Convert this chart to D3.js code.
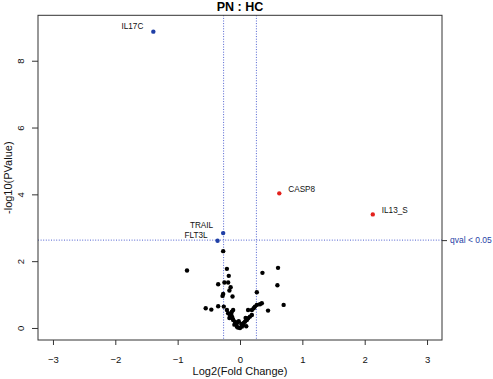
<!DOCTYPE html>
<html>
<head>
<meta charset="utf-8">
<script src="https://cdn.jsdelivr.net/npm/d3@7"></script>
<style>
  body { margin: 0; background: #fff; }
  svg { display: block; font-family: "Liberation Sans", Arial, sans-serif; }
</style>
</head>
<body>
<div id="chart"></div>
<script>
// significant proteins (labelled)
const sigNames = ["IL17C", "TRAIL", "FLT3L", "CASP8", "IL13_S"];
const sigFC = [-1.39, -0.27, -0.36, 0.63, 2.13];
const sigP = [8.87, 2.84, 2.61, 4.03, 3.40];
const sigDir = ["down", "down", "down", "up", "up"];

// everything else (not significant)
const nsFC = [-0.27, -0.85, -0.21, 0.36, 0.61, -0.18, -0.35, -0.25, -0.19, -0.15, -0.17, 0.60,
  -0.27, -0.28, -0.12, 0.27, 0.70, -0.55, -0.46, -0.35, -0.26, 0.35, 0.45,
  -0.21, -0.19, -0.16, -0.13, -0.12, -0.11, -0.13, -0.11, -0.08, -0.05, -0.05, -0.03, 0.00,
  0.03, 0.05, 0.08, 0.11, 0.13, 0.16, 0.19, 0.13, 0.19, 0.22, 0.24, 0.27, 0.32,
  -0.17, -0.09, 0.06, 0.10, -0.14, 0.02, -0.02, 0.09];
const nsP = [2.30, 1.72, 1.77, 1.65, 1.80, 1.56, 1.31, 1.36, 1.36, 1.22, 1.12, 1.28,
  1.02, 0.96, 0.94, 1.07, 0.69, 0.59, 0.55, 0.65, 0.64, 0.74, 0.52,
  0.54, 0.44, 0.39, 0.34, 0.29, 0.24, 0.49, 0.54, 0.19, 0.14, 0.04, 0.01, 0.00,
  0.04, 0.09, 0.19, 0.24, 0.29, 0.34, 0.39, 0.54, 0.54, 0.59, 0.64, 0.69, 0.71,
  0.30, 0.10, 0.15, 0.05, 0.42, 0.12, 0.20, 0.30];

const xTicks = [-3, -2, -1, 0, 1, 2, 3];
const yTicks = [0, 2, 4, 6, 8];
const fcCut = 0.263;   // log2(1.2)
const qCut = 2.63;     // -log10 p where q < 0.05

const width = 493;
const height = 379;
const blue = "#1f3fa6";
const red = "#e3211c";
const lineBlue = "#4f60d0";

const svg = d3.select("#chart")
  .append("svg")
  .attr("width", width)
  .attr("height", height);

const x = d3.scaleLinear().domain([-3.24, 3.24]).range([38, 442]);
const y = d3.scaleLinear().domain([-0.36, 9.36]).range([340, 15.3]);

// threshold lines
svg.selectAll(".vline")
  .data([-fcCut, fcCut])
  .join("line")
  .attr("x1", d => x(d)).attr("x2", d => x(d))
  .attr("y1", y.range()[1]).attr("y2", y.range()[0])
  .attr("stroke", lineBlue)
  .attr("stroke-dasharray", "1,1.6");

svg.append("line")
  .attr("x1", x.range()[0]).attr("x2", x.range()[1])
  .attr("y1", y(qCut)).attr("y2", y(qCut))
  .attr("stroke", lineBlue)
  .attr("stroke-dasharray", "1,1.6");

// points
const ns = nsFC.map((d, i) => ({ fc: d, p: nsP[i] }));
svg.selectAll(".ns")
  .data(ns)
  .join("circle")
  .attr("cx", d => x(d.fc))
  .attr("cy", d => y(d.p))
  .attr("r", 2.2)
  .attr("fill", "#000");

const sig = sigNames.map((n, i) => ({ name: n, fc: sigFC[i], p: sigP[i], dir: sigDir[i] }));
svg.selectAll(".sig")
  .data(sig)
  .join("circle")
  .attr("cx", d => x(d.fc))
  .attr("cy", d => y(d.p))
  .attr("r", 2.2)
  .attr("fill", d => d.dir === "up" ? red : blue);

// small nudge so the two close labels don't collide
const nudge = { TRAIL: -1.5, FLT3L: 0.5 };
svg.selectAll(".lab")
  .data(sig)
  .join("text")
  .attr("x", d => d.dir === "up" ? x(d.fc) + 9 : x(d.fc) - 10)
  .attr("y", d => (d.dir === "up" ? y(d.p) - 4 : y(d.p) - 6) + (nudge[d.name] || 0))
  .attr("dy", "0.35em")
  .attr("text-anchor", d => d.dir === "up" ? "start" : "end")
  .attr("font-size", 8.2)
  .attr("fill", "#111")
  .text(d => d.name);

// axes
const xAxis = svg.append("g")
  .attr("transform", `translate(0,340)`)
  .call(d3.axisBottom(x).tickValues(xTicks).tickSize(5).tickPadding(11).tickFormat(d3.format("d")));
xAxis.select(".domain").remove();
xAxis.selectAll("text").attr("font-size", 9.5).attr("fill", "#111");
xAxis.selectAll("line").attr("stroke", "#333");

const yAxis = svg.append("g")
  .attr("transform", `translate(38,0)`)
  .call(d3.axisLeft(y).tickValues(yTicks).tickSize(6).tickFormat(d3.format("d")));
yAxis.select(".domain").remove();
yAxis.selectAll("line").attr("stroke", "#333");
yAxis.selectAll("text")
  .attr("x", null)
  .attr("dy", null)
  .attr("text-anchor", "middle")
  .attr("transform", "translate(-14,0) rotate(-90)")
  .attr("font-size", 9.5)
  .attr("fill", "#111");

const rAxis = svg.append("g")
  .attr("transform", `translate(442,0)`)
  .call(d3.axisRight(y).tickValues([qCut]).tickSize(5).tickPadding(3).tickFormat(() => "qval < 0.05"));
rAxis.select(".domain").remove();
rAxis.selectAll("line").attr("stroke", "#333");
rAxis.selectAll("text").attr("font-size", 8.5).attr("fill", blue);

// box
svg.append("rect")
  .attr("x", x.range()[0]).attr("y", y.range()[1])
  .attr("width", x.range()[1] - x.range()[0])
  .attr("height", y.range()[0] - y.range()[1])
  .attr("fill", "none")
  .attr("stroke", "#333");

// titles
svg.append("text")
  .attr("x", 240).attr("y", 11)
  .attr("text-anchor", "middle")
  .attr("font-size", 12.5)
  .attr("font-weight", "bold")
  .text("PN : HC");

svg.append("text")
  .attr("x", 240).attr("y", 375)
  .attr("text-anchor", "middle")
  .attr("font-size", 11)
  .attr("fill", "#111")
  .text("Log2(Fold Change)");

svg.append("text")
  .attr("transform", "translate(12,177.7) rotate(-90)")
  .attr("text-anchor", "middle")
  .attr("font-size", 11)
  .attr("fill", "#111")
  .text("-log10(PValue)");
</script>
</body>
</html>
